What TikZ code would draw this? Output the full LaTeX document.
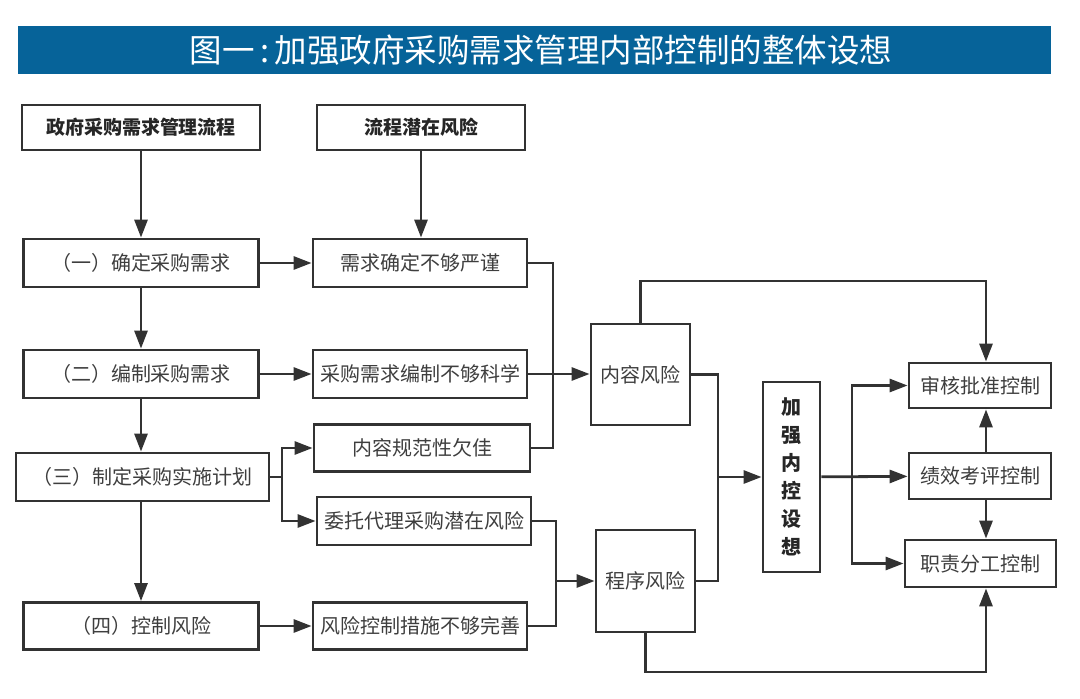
\documentclass[tikz,border=0pt]{standalone}
\usepackage{fontspec}
\setmainfont{Noto Sans CJK SC}
\usetikzlibrary{arrows.meta}

\definecolor{titleblue}{RGB}{6,99,153}
\definecolor{linegray}{RGB}{50,50,50}
\definecolor{textgray}{RGB}{62,62,62}

\begin{document}
\begin{tikzpicture}[
    x=1pt, y=-1pt,
    box/.style={rectangle, draw=linegray, line width=2.8pt, inner sep=0pt, text=textgray, font=\fontsize{20}{24}\selectfont},
    headbox/.style={box, text=black!85, font=\fontsize{19}{23}\selectfont\bfseries},
    flow/.style={draw=linegray, line width=2.8pt, -{Triangle[length=18pt, width=13pt]}},
    link/.style={draw=linegray, line width=2.8pt}
]
\useasboundingbox (0,0) rectangle (1080,699);

% title bar
\fill[titleblue] (18,26) rectangle (1051,74);
\node[text=white, font=\fontsize{32.5}{36}\selectfont] (title) at (541,50) {图一\,:\,加强政府采购需求管理内部控制的整体设想};

% column heads
\node[headbox, minimum width=238pt, minimum height=45pt] (proc) at (141,127.5) {政府采购需求管理流程};
\node[headbox, minimum width=208pt, minimum height=45pt] (risk) at (421,127.5) {流程潜在风险};

% process steps
\node[box, minimum width=235pt, minimum height=48pt] (s1) at (141,263) {（一）确定采购需求};
\node[box, minimum width=235pt, minimum height=48pt] (s2) at (141,374) {（二）编制采购需求};
\node[box, minimum width=253pt, minimum height=48pt] (s3) at (142.5,477) {（三）制定采购实施计划};
\node[box, minimum width=235pt, minimum height=47pt] (s4) at (141,626) {（四）控制风险};

% risks of each step
\node[box, minimum width=214pt, minimum height=48pt] (r1) at (420,263) {需求确定不够严谨};
\node[box, minimum width=214pt, minimum height=48pt] (r2) at (420,374) {采购需求编制不够科学};
\node[box, minimum width=216pt, minimum height=47pt] (r3a) at (422,448) {内容规范性欠佳};
\node[box, minimum width=214pt, minimum height=48pt] (r3b) at (424,521) {委托代理采购潜在风险};
\node[box, minimum width=214pt, minimum height=47pt] (r4) at (420,626) {风险控制措施不够完善};

% risk groups
\node[box, minimum width=99pt, minimum height=101pt] (nr) at (640.5,374.5) {内容风险};
\node[box, minimum width=99pt, minimum height=102pt] (cr) at (645.5,581) {程序风险};

% internal control
\node[box, text=black!85, minimum width=57pt, minimum height=190pt, align=center,
      font=\fontsize{20}{28}\selectfont\bfseries] (jq) at (791.5,477) {加\\强\\内\\控\\设\\想};
\node[box, minimum width=142pt, minimum height=45pt] (c1) at (980,385.5) {审核批准控制};
\node[box, minimum width=142pt, minimum height=46pt] (c2) at (980,476) {绩效考评控制};
\node[box, minimum width=151pt, minimum height=47pt] (c3) at (980.5,563.5) {职责分工控制};

% junction points
\coordinate (fork) at (282,477);
\coordinate (join1) at (553,374);
\coordinate (join2) at (556,581);
\coordinate (join3) at (718,477);
\coordinate (split) at (852,477);
\coordinate (ctl) at (986,0);
\coordinate (toploop) at (640,281);
\coordinate (botloop) at (645,672);

% down the columns
\draw[flow] (proc) -- (s1);
\draw[flow] (risk.south) -- (risk.south |- r1.north);
\draw[flow] (s1) -- (s2);
\draw[flow] (s2.south) -- (s2.south |- s3.north);
\draw[flow] (s4.north |- s3.south) -- (s4.north);

% steps to risks
\draw[flow] (s1) -- (r1);
\draw[flow] (s2) -- (r2);
\draw[link] (s3.east) -- (fork);
\draw[flow] (fork) |- (r3a);
\draw[flow] (fork) |- (r3b);
\draw[flow] (s4) -- (r4);

% risks to risk groups
\draw[link] (r1.east) -| (join1) |- (r3a.east);
\draw[flow] (r2.east) -- (r2.east -| nr.west);
\draw[link] (r3b.east) -| (join2) |- (r4.east);
\draw[flow] (join2) -- (cr);

% groups to internal control
\draw[link] (nr.east) -| (join3) |- (cr.east);
\draw[flow] (join3) -- (jq);
\draw[flow] (jq) -- (c2);
\draw[flow] (split) |- (c1);
\draw[flow] (split) |- (c3);
\draw[flow] (ctl |- c2.north) -- (ctl |- c1.south);
\draw[flow] (ctl |- c2.south) -- (ctl |- c3.north);

% loops round the top and bottom
\draw[flow] (nr.north) -- (nr.north |- toploop) -| (ctl |- c1.north);
\draw[flow] (cr.south) -- (cr.south |- botloop) -| (ctl |- c3.south);

\end{tikzpicture}
\end{document}
